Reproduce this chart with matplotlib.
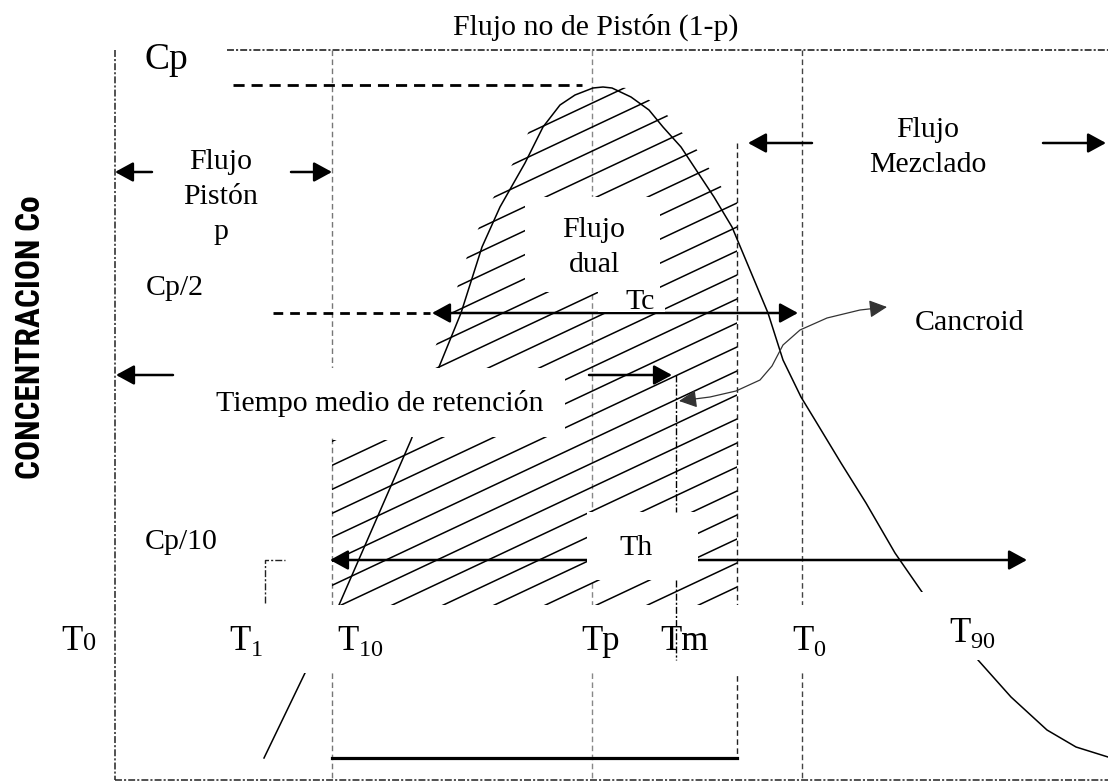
import numpy as np
import matplotlib
matplotlib.use("Agg")
import matplotlib.pyplot as plt
from matplotlib import font_manager
from matplotlib.patches import Rectangle, Polygon, FancyArrowPatch
from matplotlib.path import Path
from matplotlib.collections import LineCollection

plt.rcParams["font.family"] = ["Liberation Serif", "DejaVu Serif"]
plt.rcParams["mathtext.fontset"] = "custom"
plt.rcParams["mathtext.rm"] = "Liberation Serif"
plt.rcParams["lines.scale_dashes"] = False

W, H = 1108, 784

# Tracer response curve C(t) drawn in the diagram frame (y grows downward)
curve_x = [264, 305, 339, 411, 439, 461, 482, 500, 525, 543, 560, 575, 593, 603,
           612, 631, 649, 663, 681, 714, 732, 768, 783, 801, 815, 841, 866, 895,
           922, 950, 978, 1011, 1047, 1076, 1108]
curve_y = [758, 673, 605, 440, 367, 313, 247, 207, 163, 127, 105, 95, 88, 87,
           88, 97, 110, 127, 147, 197, 227, 313, 360, 397, 420, 463, 503, 553,
           592, 626, 660, 697, 730, 747, 757]

# Reference times (x) and concentration levels (y)
x_T0, x_T1, x_T10, x_Tp, x_Tm, x_Tend, x_Tmix = 115, 265, 332, 592, 676, 737, 802
y_top, y_Cp, y_Cp2, y_Cp10, y_bottom = 50, 85, 313, 560, 780
y_bar = 758

# Hatching of the dual-flow area
hatch_slope = 0.47
hatch_step = 24

# Centroid pointer
cancroid_x = [679, 710, 736, 760, 772, 783, 800, 827, 860, 887]
cancroid_y = [401, 397, 391, 380, 366, 345, 330, 318, 310, 307]

fig = plt.figure(figsize=(W / 100, H / 100), dpi=100)
ax = fig.add_axes([0, 0, 1, 1])
ax.set_xlim(0, W)
ax.set_ylim(H, 0)
ax.axis("off")

dashdot = (0, (5, 1.5, 1.5, 1.5))
dashed = (0, (4, 2.5))

# Frame
ax.plot([x_T0, x_T0], [y_top, y_bottom], color="#222", lw=1.1, ls=dashdot, zorder=2)
ax.plot([227, W], [y_top, y_top], color="#222", lw=1.2, ls=dashdot, zorder=2)
ax.plot([x_T0, W], [y_bottom, y_bottom], color="#222", lw=1.1, ls=dashdot, zorder=2)

# Reference verticals
ax.plot([x_T10, x_T10], [y_top, y_bottom], color="#777", lw=1.0, ls=dashed, zorder=2)
ax.plot([x_Tp, x_Tp], [y_top, y_bottom], color="#888", lw=1.0, ls=dashed, zorder=2)
ax.plot([x_Tmix, x_Tmix], [y_top, y_bottom], color="#444", lw=1.0, ls=dashed, zorder=2)
ax.plot([x_Tend, x_Tend], [143, y_bar], color="#222", lw=1.0, ls=dashed, zorder=2)
ax.plot([x_T1, x_T1, 285], [603, y_Cp10, y_Cp10], color="#222", lw=1.0, ls=dashdot, zorder=2)

# Level lines
ax.plot([233, 582], [y_Cp, y_Cp], color="black", lw=2.0, ls=(0, (8, 5)), zorder=2)
ax.plot([273, 430], [y_Cp2, y_Cp2], color="black", lw=2.0, ls=(0, (7, 5)), zorder=2)
ax.plot([x_T10, x_Tend], [y_bar, y_bar], color="black", lw=2.3, zorder=2)

# Curve
ax.plot(curve_x, curve_y, color="black", lw=1.1, zorder=3)

# Hatched area under the curve
cx = np.array(curve_x, float)
cy = np.array(curve_y, float)
peak = int(np.argmin(cy))
left = [(x - 12, y) for x, y in zip(cx[:peak + 1], cy[:peak + 1]) if y <= 440]
right = [(x + 14, y) for x, y in zip(cx[peak:], cy[peak:]) if x + 14 <= x_Tend]
region = [(x_T10, 605), (x_T10, 440)] + left + right + \
         [(x_Tend, right[-1][1]), (x_Tend, 605)]
clip = Polygon(region, closed=True, transform=ax.transData, fc="none", ec="none")
ax.add_patch(clip)
segs = []
for c in np.arange(87 + hatch_slope * 320, 620 + hatch_slope * 760, hatch_step):
    xs = np.array([320, 760])
    segs.append(list(zip(xs, c - hatch_slope * xs)))
lc = LineCollection(segs, colors="black", linewidths=1.1, zorder=2)
ax.add_collection(lc)
lc.set_clip_path(clip)

# Arrows
def arrow(tail, tip, style="-|>"):
    ax.annotate("", xy=tip, xytext=tail, zorder=4,
                arrowprops=dict(arrowstyle=style + ",head_length=0.55,head_width=0.3",
                                color="black", lw=1.8, mutation_scale=20,
                                shrinkA=0, shrinkB=0))

arrow((152, 172), (x_T0, 172))
arrow((291, 172), (x_T10, 172))
arrow((812, 143), (748, 143))
arrow((1043, 143), (1106, 143))
arrow((173, 375), (116, 375))
arrow((589, 375), (672, 375))
arrow((432, y_Cp2), (798, y_Cp2), "<|-|>")
arrow((330, y_Cp10), (1027, y_Cp10), "<|-|>")

ax.add_patch(FancyArrowPatch(path=Path(list(zip(cancroid_x, cancroid_y))),
                             arrowstyle="<|-|>,head_length=0.6,head_width=0.3",
                             mutation_scale=18, color="#333", lw=0.9,
                             transform=ax.transData, zorder=4))

# White label backgrounds
masks = [(200, 368, 565, 437), (525, 197, 660, 292), (598, 292, 665, 312),
         (587, 512, 698, 580), (200, 605, 900, 673), (900, 592, 1010, 660)]
for x0, y0, x1, y1 in masks:
    ax.add_patch(Rectangle((x0, y0), x1 - x0, y1 - y0, fc="white", ec="none", zorder=5))

# Mean residence time marker
ax.plot([x_Tm, x_Tm], [375, 512], color="black", lw=1.0, ls=dashdot, zorder=6)
ax.plot([x_Tm, x_Tm], [580, 660], color="black", lw=1.0, ls=dashdot, zorder=6)

fs = 21.5
def label(x, y, s, size=fs, **kw):
    kw.setdefault("ha", "center")
    kw.setdefault("va", "center")
    ax.text(x, y, s, fontsize=size, zorder=7, linespacing=1.45, **kw)

label(596, 27, "Flujo no de Pistón (1-p)")
label(166, 60, "Cp", size=27)
label(221, 197, "Flujo\nPistón\np")
label(928, 147, "Flujo\nMezclado")
label(594, 247, "Flujo\ndual")
label(640, 302, "Tc")
label(175, 288, "Cp/2")
label(969, 323, "Cancroid")
label(380, 403, "Tiempo medio de retención")
label(181, 542, "Cp/10")
label(636, 548, "Th")

ts = 25
label(83, 650, "T", size=ts, ha="right", va="baseline")
label(83, 650, "0", size=19, ha="left", va="baseline")
label(229, 650, r"T$_\mathregular{1}$", size=ts, ha="left", va="baseline")
label(337, 650, r"T$_\mathregular{10}$", size=ts, ha="left", va="baseline")
label(581, 650, "Tp", size=ts, ha="left", va="baseline")
label(660, 650, "Tm", size=ts, ha="left", va="baseline")
label(792, 650, r"T$_\mathregular{0}$", size=ts, ha="left", va="baseline")
label(949, 642, r"T$_\mathregular{90}$", size=ts, ha="left", va="baseline")

# Narrow bold face for the vertical axis title
names = {f.name for f in font_manager.fontManager.ttflist}
narrow = [n for n in ("Liberation Sans Narrow", "Roboto Condensed",
                      "Open Sans Condensed", "DejaVu Sans") if n in names]
yfam = narrow[0] if narrow else "DejaVu Sans"
ysize = 24 if yfam != "DejaVu Sans" else 20
ax.text(31, 337, "CONCENTRACION Co", rotation=90, ha="center", va="center",
        fontsize=ysize, fontweight="bold", fontstretch="condensed",
        family=yfam, zorder=7)

fig.savefig("out.png", dpi=100)
